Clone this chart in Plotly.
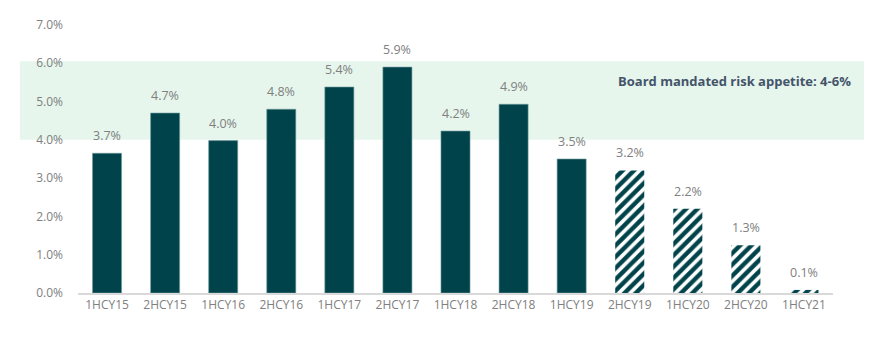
import plotly.graph_objects as go

categories = ["1HCY15", "2HCY15", "1HCY16", "2HCY16", "1HCY17", "2HCY17",
              "1HCY18", "2HCY18", "1HCY19", "2HCY19", "1HCY20", "2HCY20", "1HCY21"]
values = [3.65, 4.7, 3.98, 4.8, 5.38, 5.9, 4.23, 4.93, 3.5, 3.2, 2.2, 1.25, 0.08]
labels = ["3.7%", "4.7%", "4.0%", "4.8%", "5.4%", "5.9%", "4.2%", "4.9%",
          "3.5%", "3.2%", "2.2%", "1.3%", "0.1%"]
n_actual = 9  # first 9 solid, rest hatched (forecast)
tick_vals = [0, 1, 2, 3, 4, 5, 6, 7]
tick_text = ["0.0%", "1.0%", "2.0%", "3.0%", "4.0%", "5.0%", "6.0%", "7.0%"]
band = (4.0, 6.05)

DARK = "#00434A"
GREY = "#808080"

fig = go.Figure()
fig.add_trace(go.Bar(
    x=categories[:n_actual], y=values[:n_actual], width=0.5,
    marker=dict(color=DARK, line=dict(color="#6f9a9c", width=0.6)),
    showlegend=False,
))
fig.add_trace(go.Bar(
    x=categories[n_actual:], y=values[n_actual:], width=0.5,
    marker=dict(color="white", line=dict(width=0),
                pattern=dict(shape="/", fgcolor=DARK, bgcolor="white",
                             fgopacity=1, size=8, solidity=0.55)),
    showlegend=False,
))

for c, v, t in zip(categories, values, labels):
    fig.add_annotation(x=c, y=v, text=t, showarrow=False, yanchor="bottom",
                       yshift=7, font=dict(color=GREY, size=12.5))

fig.add_shape(type="rect", xref="paper", yref="y", x0=-0.077, x1=1.041,
              y0=band[0], y1=band[1], fillcolor="#E6F6EC", line=dict(width=0),
              layer="below")
fig.add_annotation(xref="paper", yref="y", x=1.027, y=5.55, xanchor="right",
                   text="<b>Board mandated risk appetite: 4-6%</b>", showarrow=False,
                   font=dict(color="#44546A", size=13))

fig.update_layout(
    width=874, height=351, margin=dict(l=78, r=41, t=25, b=58),
    paper_bgcolor="white", plot_bgcolor="rgba(0,0,0,0)",
    font=dict(family="Open Sans, Arial", color=GREY, size=12),
    bargap=0.5,
)
fig.update_xaxes(categoryorder="array", categoryarray=categories,
                 showline=True, linecolor="#D9D9D9", linewidth=2,
                 tickfont=dict(color=GREY, size=12), ticks="", showgrid=False)
fig.update_yaxes(range=[0, 7], tickvals=tick_vals, ticktext=tick_text,
                 showgrid=False, zeroline=False, showline=False,
                 tickfont=dict(color=GREY, size=12), ticklabelstandoff=14)

fig.write_html("out.html")
